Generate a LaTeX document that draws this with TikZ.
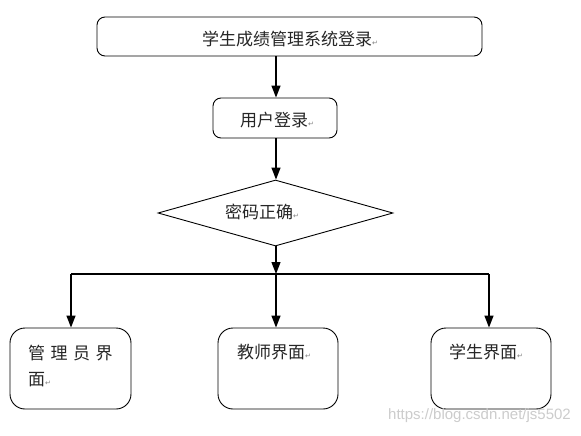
\documentclass[tikz,border=0pt]{standalone}
\usepackage{fontspec}
\setmainfont{Liberation Serif}
\newfontfamily\cjk{Noto Sans CJK SC}
\newfontfamily\dvfont{DejaVu Sans}
\newfontfamily\wmfont{Liberation Sans}
\usetikzlibrary{shapes.geometric,arrows.meta}
\newcommand{\retmark}{{\dvfont\fontsize{7}{7}\selectfont\textcolor{gray}{↵}}}
\begin{document}
\begin{tikzpicture}[x=1pt,y=-1pt,
  box/.style={draw, line width=0.9pt, inner sep=0pt},
  smallround/.style={box, rounded corners=8pt},
  biground/.style={box, rounded corners=15pt},
  arr/.style={line width=1.3pt, -{Triangle[width=9pt,length=12pt]}},
  plainline/.style={line width=1.1pt},
  txt/.style={font=\cjk\fontsize{17}{17}\selectfont, inner sep=0pt, text=black!85},
  watermark/.style={font=\wmfont\fontsize{15}{15}\selectfont, text=black!20, inner sep=0pt}]
\useasboundingbox (0,0) rectangle (581,436);
\fill[white] (0,0) rectangle (581,436);

% boxes
\node[smallround, minimum width=385pt, minimum height=39pt] (top) at (289.5,36.5) {};
\node[smallround, minimum width=124pt, minimum height=40pt] (user) at (275,118) {};
\node[draw, line width=0.9pt, shape=diamond, inner sep=0pt, minimum width=235pt, minimum height=66pt] (dia) at (275.5,213) {};
\node[biground, minimum width=121pt, minimum height=81pt] (admin) at (70.5,368.5) {};
\node[biground, minimum width=120pt, minimum height=81pt] (teacher) at (278,368.5) {};
\node[biground, minimum width=120pt, minimum height=81pt] (student) at (491,368.5) {};

% texts
\node[txt] (toptext) at (290,39) {学生成绩管理系统登录\retmark};
\node[txt, anchor=west] (usertext) at (240,120) {用户登录\retmark};
\node[txt, anchor=west] (diatext) at (225,212) {密码正确\retmark};
\node[txt, anchor=west] (admintext1) at (28,353) {管\hspace{5.5pt}理\hspace{5.5pt}员\hspace{5.5pt}界};
\node[txt, anchor=west] (admintext2) at (28,380) {面\retmark};
\node[txt, anchor=west] (teachertext) at (237,352) {教师界面\retmark};
\node[txt, anchor=west] (studenttext) at (449,352) {学生界面\retmark};
\node[watermark, anchor=east] (wm) at (571,416) {https://blog.csdn.net/js5502};

% junction
\coordinate (jm) at (276,274);
\coordinate (jl) at (71,274);
\coordinate (jr) at (489,274);

% connectors
\draw[arr] (top.south -| jm) -- (user.north -| jm);
\draw[arr] (user.south -| jm) -- (dia.north -| jm);
\draw[arr] (dia.south -| jm) -- (jm);
\draw[plainline] (jl) -- (jr);
\draw[arr] (jl) -- (jl |- admin.north);
\draw[arr] (jm) -- (jm |- teacher.north);
\draw[arr] (jr) -- (jr |- student.north);
\end{tikzpicture}
\end{document}
